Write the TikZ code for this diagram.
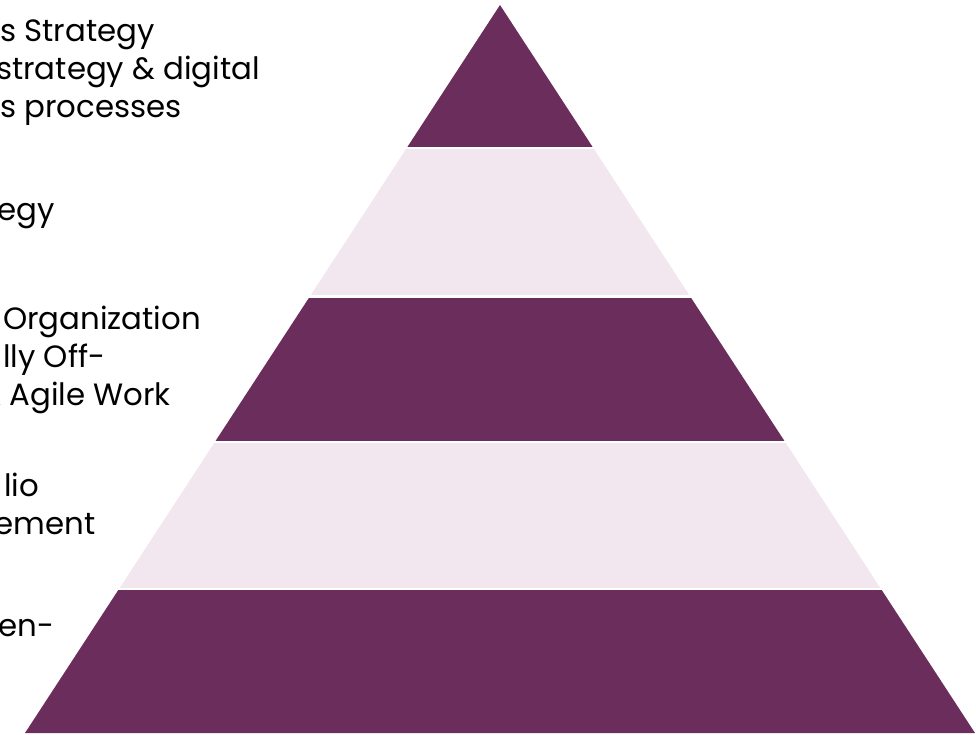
\documentclass[tikz,border=0pt]{standalone}
\usepackage{fontspec}
\setmainfont{Poppins}
\definecolor{plum}{HTML}{6B2D5B}
\definecolor{blush}{HTML}{F2E7EE}

\begin{document}
\begin{tikzpicture}[x=1pt,y=-1pt,
  lbl/.style={anchor=base west,inner sep=0pt,font=\fontsize{30.8}{38}\selectfont}]
\useasboundingbox (0,0) rectangle (976,735);
\clip (0,0) rectangle (976,735);
\coordinate (apex) at (500,5);
\coordinate (bl) at (25,733);
\coordinate (br) at (975,733);
% 金字塔的一层：#1 = 顶边 y，#2 = 底边 y，#3 = 颜色
\newcommand{\layer}[3]{
  \begin{scope}
  \clip (0,#1) rectangle (976,#2);
  \fill[#3] (apex) -- (bl) -- (br) -- cycle;
  \end{scope}
}
% ---------- 五层，深浅交替，层间留白 ----------
\layer{0}{147}{plum}
\layer{150}{294}{blush}
\layer{298}{440}{plum}
\layer{443}{587}{blush}
\layer{590}{735}{plum}
% ---------- 左侧说明文字（左端出画） ----------
\foreach \i/\x/\y/\txt in {
  1/0/42/{s Strategy},
  2/-4/80/{strategy \& digital},
  3/0/117.5/{s processes},
  4/-2.5/221/{egy},
  5/3/329.5/{Organization},
  6/3/367/{lly Off-},
  7/-21.5/405/{\& Agile Work},
  8/4/496.5/{lio},
  9/-5.5/534/{ement},
  10/-2/636.5/{en-}}{
  \node[lbl] (txt\i) at (\x,\y) {\txt};
}
\end{tikzpicture}
\end{document}
